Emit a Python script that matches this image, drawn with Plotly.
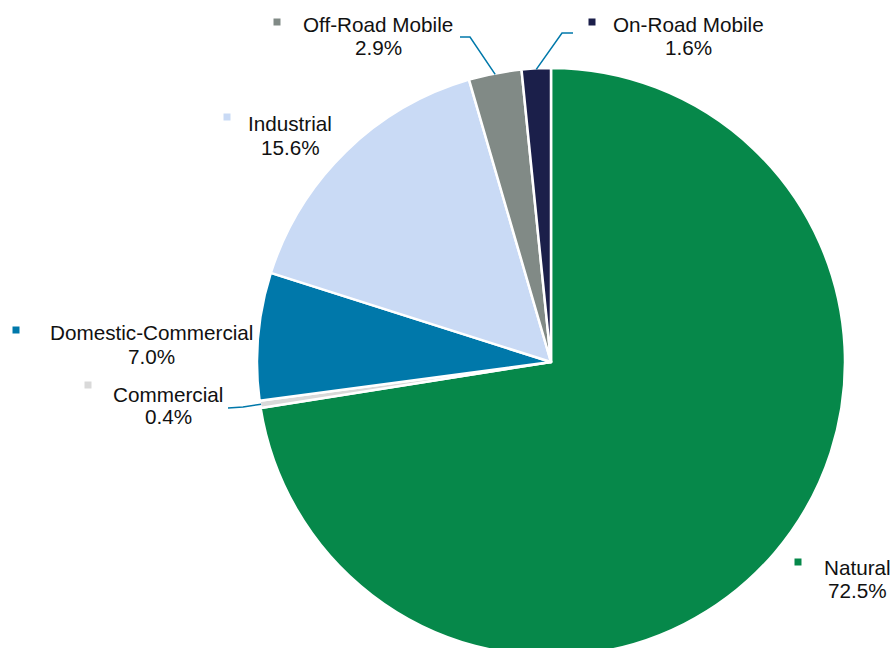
import numpy as np
import plotly.graph_objects as go

# ---- data ----
labels = ["Natural", "Commercial", "Domestic-Commercial", "Industrial",
          "Off-Road Mobile", "On-Road Mobile"]
shares = [72.5, 0.4, 7.0, 15.6, 2.9, 1.6]
colors = ["#06884A", "#D9D9D9", "#0078AA", "#C9DAF5", "#818A86", "#1B1F4A"]
pct_text = [f"{v:.1f}%" for v in shares]

# ---- layout (pixels) ----
W, H = 896, 656
CX, CY, R = 551, 362, 294
FONT = "Liberation Sans, Arial, sans-serif"
FS = 20.7
LINE_GAP = 23

# label text centre (x, y of first line) and marker square position
label_xy = [(857, 567), (168, 394), (151, 333), (290, 124), (378, 25), (688, 24)]
marker_xy = [(798, 562), (88, 385), (16, 330), (227, 117), (277, 22), (592, 22)]
# leader lines: slice index -> (start point, elbow point)
leaders = {1: ((228, 408), (243, 407)),
           4: ((460, 37), (470, 37)),
           5: ((573, 33), (562, 33))}


def px(x):
    return x / W


def py(y):
    return 1 - y / H


fig = go.Figure()
fig.add_trace(go.Pie(
    values=shares, labels=labels, sort=False, direction="clockwise",
    rotation=0, textinfo="none", showlegend=False,
    marker=dict(colors=colors, line=dict(color="white", width=2.5)),
    domain=dict(x=[px(CX - R), px(CX + R)], y=[py(CY + R), py(CY - R)]),
))

annotations = []
shapes = []
for i, name in enumerate(labels):
    lx, ly = label_xy[i]
    annotations.append(dict(x=px(lx), y=py(ly), xref="paper", yref="paper",
                            text=name, showarrow=False, xanchor="center",
                            yanchor="middle",
                            font=dict(family=FONT, size=FS, color="#111111")))
    annotations.append(dict(x=px(lx), y=py(ly + LINE_GAP), xref="paper",
                            yref="paper", text=pct_text[i], showarrow=False,
                            xanchor="center", yanchor="middle",
                            font=dict(family=FONT, size=FS, color="#111111")))
    mx, my = marker_xy[i]
    shapes.append(dict(type="rect", xref="paper", yref="paper",
                       x0=px(mx - 3.5), x1=px(mx + 3.5),
                       y0=py(my + 3.5), y1=py(my - 3.5),
                       fillcolor=colors[i], line=dict(width=0)))

# leader lines from slice mid-angle on the rim
cum = np.cumsum([0] + shares)
for i, (start, elbow) in leaders.items():
    mid = (cum[i] + cum[i + 1]) / 2 / 100 * 2 * np.pi
    ex = CX + (R - 1) * np.sin(mid)
    ey = CY - (R - 1) * np.cos(mid)
    path = (f"M {px(start[0])},{py(start[1])} L {px(elbow[0])},{py(elbow[1])} "
            f"L {px(ex)},{py(ey)}")
    shapes.append(dict(type="path", xref="paper", yref="paper", path=path,
                       line=dict(color="#0078AA", width=1.5)))

fig.update_layout(
    width=W, height=H, margin=dict(l=0, r=0, t=0, b=0),
    paper_bgcolor="white", plot_bgcolor="white",
    annotations=annotations, shapes=shapes,
)

fig.write_html("out.html", config={"displayModeBar": False},
               post_script="document.body.style.overflow='hidden';document.body.style.margin='0';")
